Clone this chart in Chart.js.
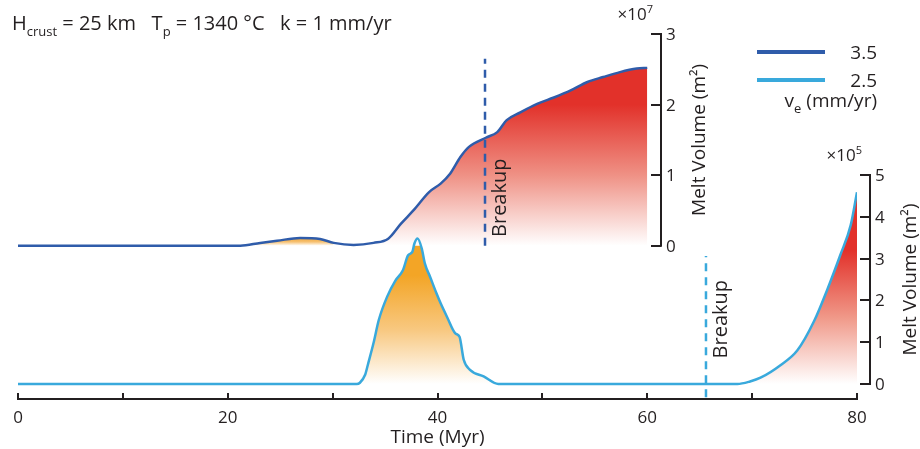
<!DOCTYPE html>
<html>
<head>
<meta charset="utf-8">
<script src="https://cdn.jsdelivr.net/npm/chart.js@4.4.0/dist/chart.umd.min.js"></script>
<style>
  body { margin: 0; background: #fff; font-family: "Open Sans", sans-serif; color: #231f20; }
  #wrap { position: relative; width: 920px; height: 449px; overflow: hidden; }
  canvas { position: absolute; left: 0; top: 0; }
  .txt { position: absolute; white-space: nowrap; line-height: 1; }
  .txt sub { font-size: 13px; vertical-align: -6px; line-height: 0; }
  .key { position: absolute; height: 4px; }
</style>
</head>
<body>
<div id="wrap">
  <canvas id="meltChart" width="920" height="449"></canvas>
  <div class="txt" id="header" style="left:12px; top:13px; font-size:20px;">
    H<sub>crust</sub> = 25 km&nbsp;&nbsp; T<sub>p</sub> = 1340 °C&nbsp;&nbsp; k = 1 mm/yr
  </div>
  <div class="key" style="left:757px; top:50px; width:68px; background:#2f5caa;"></div>
  <div class="key" style="left:757px; top:78px; width:68px; background:#39a9dc;"></div>
  <div class="txt" style="right:43px; top:43px; font-size:19px;">3.5</div>
  <div class="txt" style="right:43px; top:71px; font-size:19px;">2.5</div>
  <div class="txt" style="right:43px; top:91px; font-size:19px;">v<sub>e</sub> (mm/yr)</div>
</div>
<script>
// v_e = 3.5 mm/yr, melt volume in 1e7 m2
const timeFast = [0, 20, 21.2, 23.1, 24.7, 26.9, 28.8, 30.1, 32.0, 33.9, 35.3, 36.5, 37.7, 39.2, 40.3,
  41.2, 42.2, 43.0, 44.6, 45.7, 46.6, 47.9, 49.5, 51.1, 52.7, 54.3, 55.8, 57.4, 59.0, 60.0];
const meltFast = [0, 0, 0, 0.04, 0.07, 0.11, 0.095, 0.04, 0.01, 0.04, 0.10, 0.31, 0.50, 0.76, 0.88,
  1.02, 1.26, 1.40, 1.53, 1.61, 1.78, 1.89, 2.01, 2.10, 2.20, 2.32, 2.39, 2.46, 2.51, 2.52];

// v_e = 2.5 mm/yr, melt volume in 1e5 m2
const timeSlow = [0, 32.3, 32.6, 33.1, 33.4, 33.9, 34.4, 35.2, 36.0, 36.7, 37.2, 37.6, 37.8, 38.1,
  38.5, 38.8, 39.3, 39.9, 40.3, 40.9, 41.7, 42.1, 42.5, 43.1, 44.4, 45.8, 68.6, 69.8, 70.8, 72.7,
  74.3, 75.9, 77.2, 78.4, 79.4, 80];
const meltSlow = [0, 0, 0.03, 0.22, 0.5, 0.98, 1.53, 2.09, 2.48, 2.72, 3.08, 3.16, 3.36, 3.48,
  3.24, 2.88, 2.56, 2.17, 1.93, 1.61, 1.21, 1.13, 0.58, 0.34, 0.18, 0, 0, 0.06, 0.15, 0.45,
  0.8, 1.5, 2.28, 3.08, 3.8, 4.59];

// breakup times and the extent of the dashed markers
const breakupTimes = [44.53, 65.6];
const breakupFastSpan = [0, 2.65];
const breakupSlowSpan = [-0.32, 3.06];

// ticks
const xTicks = [0, 10, 20, 30, 40, 50, 60, 70, 80];
const xLabels = [0, 20, 40, 60, 80];
const fastTicks = [0, 1, 2, 3];
const slowTicks = [0, 1, 2, 3, 4, 5];

const colors = {
  fast: "#2f5caa",
  slow: "#39a9dc",
  red: "#e2312a",
  orange: "#f3a526",
  axis: "#231f20",
};
const family = "'Open Sans', sans-serif";

const pts = (xs, ys) => xs.map((x, i) => ({ x: x, y: ys[i] }));
const between = (xs, ys, a, b) => pts(xs, ys).filter(p => p.x >= a && p.x <= b);

// vertical gradient from colour at value "hi" to white at 0
function fade(axisId, hi, color, mid) {
  return function (context) {
    const chart = context.chart;
    if (!chart.chartArea) return color;
    const s = chart.scales[axisId];
    const g = chart.ctx.createLinearGradient(0, s.getPixelForValue(hi), 0, s.getPixelForValue(0));
    g.addColorStop(0, color);
    g.addColorStop(0.5, mid);
    g.addColorStop(1, "#ffffff");
    return g;
  };
}

// axes at the right of each curve, text labels
const meltAxes = {
  id: "meltAxes",
  afterDraw(chart) {
    const { ctx, chartArea, scales } = chart;
    const x = scales.x;
    ctx.save();
    ctx.strokeStyle = colors.axis;
    ctx.fillStyle = colors.axis;
    ctx.lineWidth = 2;

    // inward x ticks
    xTicks.forEach(v => {
      const px = Math.round(x.getPixelForValue(v));
      ctx.beginPath();
      ctx.moveTo(px, chartArea.bottom);
      ctx.lineTo(px, chartArea.bottom - 6);
      ctx.stroke();
    });

    function vAxis(scale, at, ticks, exp, titleGap) {
      const ax = Math.round(x.getPixelForValue(at));
      const y0 = scale.getPixelForValue(ticks[0]);
      const y1 = scale.getPixelForValue(ticks[ticks.length - 1]);
      ctx.lineWidth = 2;
      ctx.beginPath();
      ctx.moveTo(ax, y0 + 1);
      ctx.lineTo(ax, y1 - 1);
      ctx.stroke();
      ctx.font = "17px " + family;
      ctx.textAlign = "left";
      ctx.textBaseline = "middle";
      ticks.forEach(v => {
        const py = Math.round(scale.getPixelForValue(v));
        ctx.beginPath();
        ctx.moveTo(ax, py);
        ctx.lineTo(ax - 10, py);
        ctx.stroke();
        ctx.fillText(String(v), ax + 5, py + 1);
      });
      // exponent
      ctx.textBaseline = "alphabetic";
      ctx.textAlign = "right";
      ctx.font = "11px " + family;
      const supW = ctx.measureText(exp).width;
      ctx.fillText(exp, ax - 8, y1 - 21);
      ctx.font = "17px " + family;
      ctx.fillText("×10", ax - 8 - supW, y1 - 14);
      // title
      ctx.save();
      ctx.translate(ax + titleGap, (y0 + y1) / 2);
      ctx.rotate(-Math.PI / 2);
      ctx.textAlign = "center";
      ctx.textBaseline = "middle";
      ctx.font = "19px " + family;
      ctx.fillText("Melt Volume (m²)", 0, 0);
      ctx.restore();
    }
    vAxis(scales.yFast, 61.3, fastTicks, "7", 39);
    vAxis(scales.ySlow, 81.25, slowTicks, "5", 41);

    // breakup labels
    ctx.font = "20px " + family;
    ctx.textAlign = "center";
    ctx.textBaseline = "middle";
    [[breakupTimes[0], scales.yFast, 0.68], [breakupTimes[1], scales.ySlow, 1.55]].forEach(([t, s, v]) => {
      ctx.save();
      ctx.translate(x.getPixelForValue(t) + 15, s.getPixelForValue(v));
      ctx.rotate(-Math.PI / 2);
      ctx.fillText("Breakup", 0, 0);
      ctx.restore();
    });
    ctx.restore();
  },
};

const lineStyle = { pointRadius: 0, cubicInterpolationMode: "monotone", fill: false };
const fillStyle = { pointRadius: 0, cubicInterpolationMode: "monotone", borderWidth: 0, fill: "origin" };

new Chart(document.getElementById("meltChart"), {
  type: "line",
  data: {
    datasets: [
      { ...lineStyle, label: "3.5", yAxisID: "yFast", data: pts(timeFast, meltFast), borderColor: colors.fast, borderWidth: 2.5 },
      { ...lineStyle, label: "2.5", yAxisID: "ySlow", data: pts(timeSlow, meltSlow), borderColor: colors.slow, borderWidth: 2.5 },
      { ...lineStyle, yAxisID: "yFast", data: pts([breakupTimes[0], breakupTimes[0]], breakupFastSpan),
        borderColor: colors.fast, borderWidth: 2.5, borderDash: [8, 6], cubicInterpolationMode: "default" },
      { ...lineStyle, yAxisID: "ySlow", data: pts([breakupTimes[1], breakupTimes[1]], breakupSlowSpan),
        borderColor: colors.slow, borderWidth: 2.5, borderDash: [8, 6], cubicInterpolationMode: "default" },
      { ...fillStyle, yAxisID: "yFast", data: between(timeFast, meltFast, 20, 31),
        backgroundColor: fade("yFast", 0.11, "#f3a83a", "#f6c070") },
      { ...fillStyle, yAxisID: "yFast", data: between(timeFast, meltFast, 31.5, 60),
        backgroundColor: fade("yFast", 2.0, colors.red, "#ef9185") },
      { ...fillStyle, yAxisID: "ySlow", data: between(timeSlow, meltSlow, 32, 46),
        backgroundColor: fade("ySlow", 2.6, colors.orange, "#f8c880") },
      { ...fillStyle, yAxisID: "ySlow", data: between(timeSlow, meltSlow, 68, 80),
        backgroundColor: fade("ySlow", 3.2, colors.red, "#f09888") },
    ],
  },
  options: {
    responsive: false,
    animation: false,
    devicePixelRatio: 1,
    layout: { padding: { left: 18, right: 63, top: 34, bottom: 0 } },
    plugins: { legend: { display: false }, tooltip: { enabled: false } },
    scales: {
      x: {
        type: "linear",
        min: 0,
        max: 80,
        afterBuildTicks: s => { s.ticks = xTicks.map(v => ({ value: v })); },
        afterFit: s => { s.height = 50; },
        grid: { display: false, drawTicks: false },
        border: { display: true, color: colors.axis, width: 2 },
        ticks: {
          autoSkip: false,
          maxRotation: 0,
          padding: 9,
          color: colors.axis,
          font: { size: 17, family: family },
          callback: v => (xLabels.includes(v) ? String(v) : ""),
        },
        title: {
          display: true,
          text: "Time (Myr)",
          color: colors.axis,
          font: { size: 19, family: family },
          padding: { top: 0, bottom: 0 },
        },
      },
      yFast: { type: "linear", display: false, min: -2.172, max: 3 },
      ySlow: { type: "linear", display: false, min: -0.359, max: 8.373 },
    },
  },
  plugins: [meltAxes],
});
</script>
</body>
</html>
